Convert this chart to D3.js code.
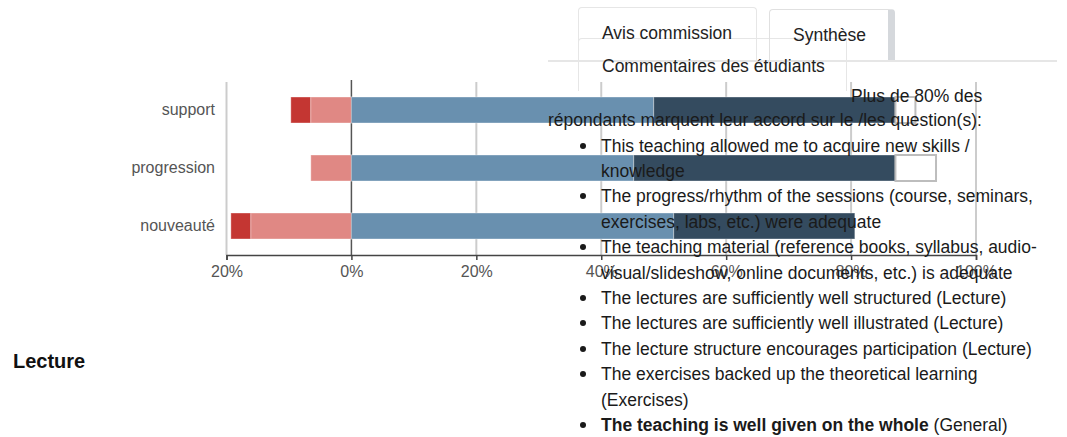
<!DOCTYPE html>
<html>
<head>
<meta charset="utf-8">
<script src="https://cdn.jsdelivr.net/npm/d3@7/dist/d3.min.js"></script>
<style>
  html, body { margin: 0; padding: 0; background: #fff; }
  body { width: 1067px; height: 437px; position: relative; overflow: hidden;
         font-family: "Liberation Sans", Arial, Helvetica, sans-serif; }
  svg { position: absolute; left: 0; top: 0; }
  .txt { position: absolute; white-space: nowrap; font-size: 17.5px; line-height: 20px; color: #1a1a1a; }
  .bullet { position: absolute; width: 6px; height: 6px; border-radius: 50%; background: #1a1a1a; }
  .tab { position: absolute; border: 1px solid #e6e6e6; border-bottom: none; border-radius: 4px 4px 0 0; box-sizing: border-box; }
</style>
</head>
<body>
<svg id="chart" width="1067" height="437"></svg>
<div id="overlay"></div>
<script>
// ---- data ----
const categories = ["support", "progression", "nouveauté"];
const stronglyDisagree = [3.2, 0, 3.2];
const disagree = [6.5, 6.5, 16.1];
const agree = [48.4, 45.2, 51.6];
const stronglyAgree = [38.7, 41.9, 29.0];
const neutral = [3.2, 6.5, 0];
const tickValues = [-20, 0, 20, 40, 60, 80, 100];

const tabLabels = ["Avis commission", "Synthèse", "Commentaires des étudiants"];
const introLines = ["Plus de 80% des", "répondants marquent leur accord sur le /les question(s):"];
const listItems = [
  ["This teaching allowed me to acquire new skills /", "knowledge"],
  ["The progress/rhythm of the sessions (course, seminars,", "exercises, labs, etc.) were adequate"],
  ["The teaching material (reference books, syllabus, audio-", "visual/slideshow, online documents, etc.) is adequate"],
  ["The lectures are sufficiently well structured (Lecture)"],
  ["The lectures are sufficiently well illustrated (Lecture)"],
  ["The lecture structure encourages participation (Lecture)"],
  ["The exercises backed up the theoretical learning", "(Exercises)"],
  ["<b>The teaching is well given on the whole</b> (General)"]
];
const sectionTitle = "Lecture";

// ---- chart ----
const svg = d3.select("#chart");
const x = d3.scaleLinear().domain([-20, 100]).range([226.5, 976]);
const y = d3.scaleBand().domain(categories).range([81, 255]).paddingInner(0.552).paddingOuter(0.276);

const colors = { sd: "#c43632", d: "#e08884", a: "#6990af", sa: "#344b5f" };

// grid
svg.append("g").selectAll("line").data(tickValues).join("line")
  .attr("x1", d => x(d)).attr("x2", d => x(d))
  .attr("y1", d => d === 0 ? 80 : 82).attr("y2", 255)
  .attr("stroke", d => d === 0 ? "#555" : "#cccccc")
  .attr("stroke-width", d => d === 0 ? 1.5 : 2);

// build segments
const segs = [];
categories.forEach((c, i) => {
  segs.push({ c, x0: -disagree[i] - stronglyDisagree[i], x1: -disagree[i], k: "sd" });
  segs.push({ c, x0: -disagree[i], x1: 0, k: "d" });
  segs.push({ c, x0: 0, x1: agree[i], k: "a" });
  segs.push({ c, x0: agree[i], x1: agree[i] + stronglyAgree[i], k: "sa" });
});
svg.append("g").selectAll("rect").data(segs.filter(s => s.x1 > s.x0)).join("rect")
  .attr("x", d => x(d.x0)).attr("width", d => x(d.x1) - x(d.x0))
  .attr("y", d => y(d.c)).attr("height", y.bandwidth())
  .attr("fill", d => colors[d.k])
  .attr("stroke", "rgba(255,255,255,0.35)").attr("stroke-width", 1);

// neutral boxes
const neu = categories.map((c, i) => ({ c, x0: agree[i] + stronglyAgree[i], x1: agree[i] + stronglyAgree[i] + neutral[i] }))
  .filter(d => d.x1 > d.x0);
svg.append("g").selectAll("rect").data(neu).join("rect")
  .attr("x", d => x(d.x0)).attr("width", d => x(d.x1) - x(d.x0))
  .attr("y", d => y(d.c)).attr("height", y.bandwidth())
  .attr("fill", "#fff").attr("stroke", "#bdbdbd").attr("stroke-width", 2);

// x axis
const xAxis = d3.axisBottom(x).tickValues(tickValues).tickSize(5).tickPadding(6)
  .tickFormat(d => Math.abs(d) + "%");
const gx = svg.append("g").attr("transform", "translate(0,255)").call(xAxis);
gx.select(".domain").attr("stroke", "#444").attr("stroke-width", 1.5);
gx.selectAll(".tick line").attr("stroke", "#444").attr("stroke-width", 1.5);
gx.selectAll(".tick text").attr("fill", "#555").attr("font-size", "16px")
  .attr("font-family", "Liberation Sans, Arial, sans-serif");

// y axis labels
const yAxis = d3.axisLeft(y).tickSize(0).tickPadding(0);
const gy = svg.append("g").attr("transform", "translate(215,0)").call(yAxis);
gy.select(".domain").remove();
gy.selectAll(".tick text").attr("fill", "#555").attr("font-size", "16px")
  .attr("font-family", "Liberation Sans, Arial, sans-serif");

// ---- overlay (page text) ----
const ov = d3.select("#overlay");
// tabs
ov.append("div").attr("class", "tab").style("left", "578px").style("top", "7px")
  .style("width", "179px").style("height", "60px");
ov.append("div").attr("class", "tab").style("left", "578px").style("top", "38px")
  .style("width", "269px").style("height", "53px");
ov.append("div").attr("class", "tab").style("left", "769px").style("top", "9px")
  .style("width", "126px").style("height", "53px")
  .style("border-color", "#e0e0e0")
  .style("border-right", "7px solid #d5d8dc");
ov.append("div").style("position", "absolute").style("left", "548px").style("top", "60px")
  .style("width", "509px").style("height", "0").style("border-top", "2px solid #e6e6e6");

ov.append("div").attr("class", "txt").style("left", "602px").style("top", (33 - 10) + "px")
  .style("color", "#222").text(tabLabels[0]);
ov.append("div").attr("class", "txt").style("left", "793px").style("top", (35 - 10) + "px")
  .style("color", "#222").text(tabLabels[1]);
ov.append("div").attr("class", "txt").style("left", "602px").style("top", (66 - 10) + "px")
  .style("color", "#222").text(tabLabels[2]);

// intro
ov.append("div").attr("class", "txt").style("left", "851px").style("top", (96 - 10) + "px").text(introLines[0]);
ov.append("div").attr("class", "txt").style("left", "548px").style("top", (119.5 - 10) + "px").text(introLines[1]);

// list
let lineIdx = 0;
const lineY = i => 145.5 + i * 25.4;
listItems.forEach(item => {
  const cy = lineY(lineIdx);
  ov.append("div").attr("class", "bullet").style("left", (583 - 3) + "px").style("top", (cy - 3) + "px");
  item.forEach(l => {
    ov.append("div").attr("class", "txt").style("left", "601px")
      .style("top", (lineY(lineIdx) - 10) + "px").html(l);
    lineIdx++;
  });
});

// section title
ov.append("div").attr("class", "txt").style("left", "13px").style("top", (361 - 12) + "px")
  .style("font-size", "20px").style("line-height", "24px").style("font-weight", "bold")
  .style("color", "#111").text(sectionTitle);
</script>
</body>
</html>
